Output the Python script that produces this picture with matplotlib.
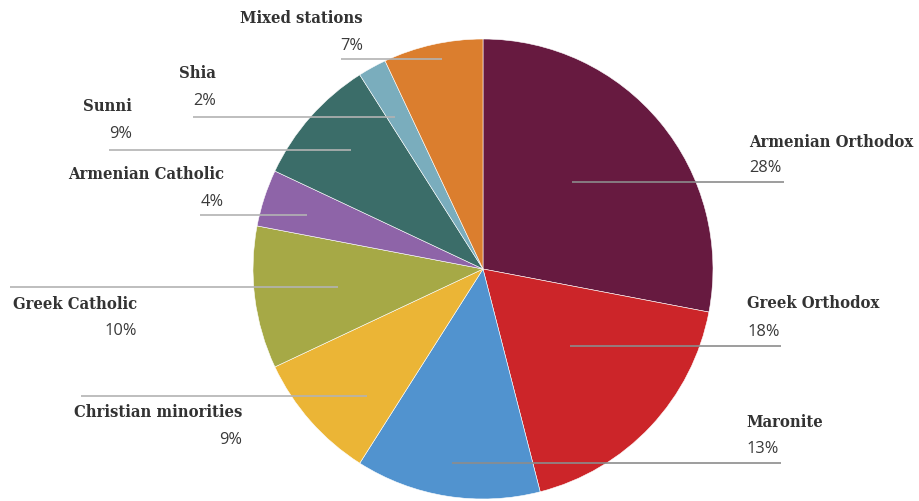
import matplotlib.pyplot as plt

# Share of stations by community
communities = ['Armenian Orthodox', 'Greek Orthodox', 'Maronite', 'Christian minorities',
               'Greek Catholic', 'Armenian Catholic', 'Sunni', 'Shia', 'Mixed stations']
shares = [28, 18, 13, 9, 10, 4, 9, 2, 7]
colors = ['#671a40', '#cc2529', '#5193cf', '#ebb536', '#a6a946',
          '#8e64a8', '#3b6d69', '#7aadbd', '#db7e2e']

# label layout in pixel units (y measured from the top): text x, alignment,
# name baseline, percent baseline, leader line y, leader start, leader end
label_x = [749, 747, 746, 242, 137, 224, 132, 216, 363]
label_ha = ['left', 'left', 'left', 'right', 'right', 'right', 'right', 'right', 'right']
name_y = [147, 308, 427, 417, 309, 179, 111, 78, 23]
pct_y = [172, 336, 453, 444, 335, 206, 138, 105, 50]
line_y = [182, 346, 463, 396, 287, 215, 150, 117, 59]
line_x0 = [572, 570, 452, 81, 10, 200, 109, 193, 341]
line_x1 = [784, 781, 781, 367, 338, 307, 351, 395, 442]

W, H = 919, 501
center = (483, H - 269)
radius = 230

fig = plt.figure(figsize=(W / 100, H / 100), dpi=100)
ax = fig.add_axes([0, 0, 1, 1])

ax.pie(shares, colors=colors, startangle=90, counterclock=False,
       center=center, radius=radius, frame=True,
       wedgeprops=dict(linewidth=0.4, edgecolor='white'))
ax.set_xlim(0, W)
ax.set_ylim(0, H)
ax.axis('off')

name_font = dict(family='DejaVu Serif', weight='bold', stretch='condensed', size=11.85)
pct_font = dict(family='Open Sans', size=11.8)

for i, name in enumerate(communities):
    lc = '#8c8c8c' if label_ha[i] == 'left' else '#b3b3b3'
    ax.plot([line_x0[i], line_x1[i]], [H - line_y[i]] * 2, color=lc, lw=1.2,
            solid_capstyle='butt', zorder=5)
    ax.text(label_x[i], H - name_y[i], name, ha=label_ha[i], va='baseline',
            color='#333333', **name_font)
    ax.text(label_x[i], H - pct_y[i], f'{shares[i]}%', ha=label_ha[i], va='baseline',
            color='#3a3a3a', **pct_font)

fig.savefig('out.png', dpi=100, facecolor='white')
